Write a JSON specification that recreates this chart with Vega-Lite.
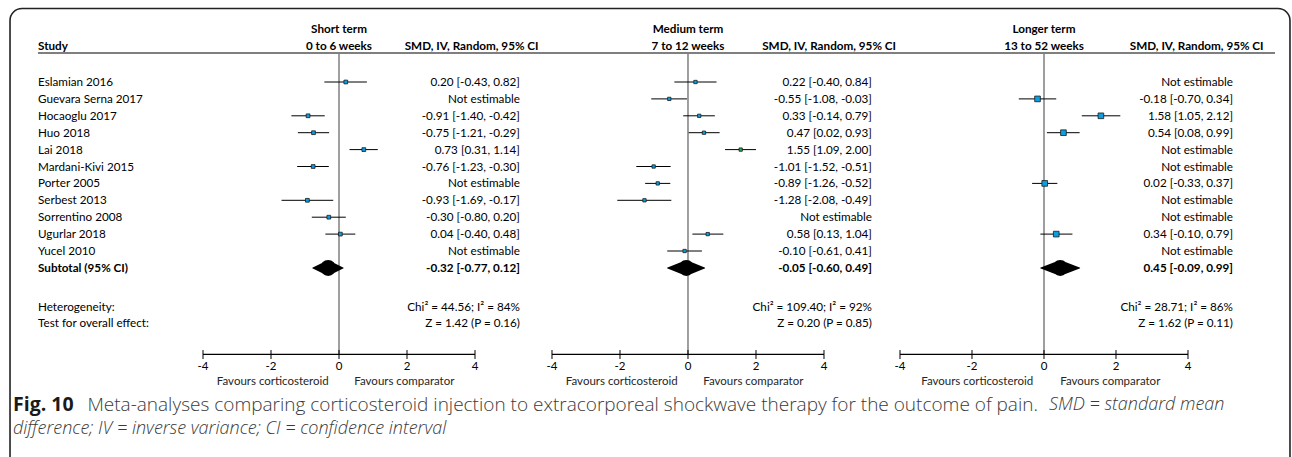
{
  "$schema": "https://vega.github.io/schema/vega-lite/v6.json",
  "width": 1292,
  "height": 457,
  "autosize": {"type": "fit", "contains": "padding"},
  "padding": 0,
  "background": "white",
  "config": {
    "view": {"stroke": null},
    "axis": {"disable": true},
    "legend": {"disable": true},
    "text": {"font": "Lato", "fontSize": 11.7, "color": "#000000", "baseline": "middle"}
  },
  "datasets": {
    "forest": [
      {"study": "Eslamian 2016", "row": 1, "period": "Short", "est": 0.20, "lo": -0.43, "hi": 0.82, "ci": "0.20 [-0.43, 0.82]"},
      {"study": "Guevara Serna 2017", "row": 2, "period": "Short", "est": null, "lo": null, "hi": null, "ci": "Not estimable"},
      {"study": "Hocaoglu 2017", "row": 3, "period": "Short", "est": -0.91, "lo": -1.40, "hi": -0.42, "ci": "-0.91 [-1.40, -0.42]"},
      {"study": "Huo 2018", "row": 4, "period": "Short", "est": -0.75, "lo": -1.21, "hi": -0.29, "ci": "-0.75 [-1.21, -0.29]"},
      {"study": "Lai 2018", "row": 5, "period": "Short", "est": 0.73, "lo": 0.31, "hi": 1.14, "ci": "0.73 [0.31, 1.14]"},
      {"study": "Mardani-Kivi 2015", "row": 6, "period": "Short", "est": -0.76, "lo": -1.23, "hi": -0.30, "ci": "-0.76 [-1.23, -0.30]"},
      {"study": "Porter 2005", "row": 7, "period": "Short", "est": null, "lo": null, "hi": null, "ci": "Not estimable"},
      {"study": "Serbest 2013", "row": 8, "period": "Short", "est": -0.93, "lo": -1.69, "hi": -0.17, "ci": "-0.93 [-1.69, -0.17]"},
      {"study": "Sorrentino 2008", "row": 9, "period": "Short", "est": -0.30, "lo": -0.80, "hi": 0.20, "ci": "-0.30 [-0.80, 0.20]"},
      {"study": "Ugurlar 2018", "row": 10, "period": "Short", "est": 0.04, "lo": -0.40, "hi": 0.48, "ci": "0.04 [-0.40, 0.48]"},
      {"study": "Yucel 2010", "row": 11, "period": "Short", "est": null, "lo": null, "hi": null, "ci": "Not estimable"},

      {"study": "Eslamian 2016", "row": 1, "period": "Medium", "est": 0.22, "lo": -0.40, "hi": 0.84, "ci": "0.22 [-0.40, 0.84]"},
      {"study": "Guevara Serna 2017", "row": 2, "period": "Medium", "est": -0.55, "lo": -1.08, "hi": -0.03, "ci": "-0.55 [-1.08, -0.03]"},
      {"study": "Hocaoglu 2017", "row": 3, "period": "Medium", "est": 0.33, "lo": -0.14, "hi": 0.79, "ci": "0.33 [-0.14, 0.79]"},
      {"study": "Huo 2018", "row": 4, "period": "Medium", "est": 0.47, "lo": 0.02, "hi": 0.93, "ci": "0.47 [0.02, 0.93]"},
      {"study": "Lai 2018", "row": 5, "period": "Medium", "est": 1.55, "lo": 1.09, "hi": 2.00, "ci": "1.55 [1.09, 2.00]"},
      {"study": "Mardani-Kivi 2015", "row": 6, "period": "Medium", "est": -1.01, "lo": -1.52, "hi": -0.51, "ci": "-1.01 [-1.52, -0.51]"},
      {"study": "Porter 2005", "row": 7, "period": "Medium", "est": -0.89, "lo": -1.26, "hi": -0.52, "ci": "-0.89 [-1.26, -0.52]"},
      {"study": "Serbest 2013", "row": 8, "period": "Medium", "est": -1.28, "lo": -2.08, "hi": -0.49, "ci": "-1.28 [-2.08, -0.49]"},
      {"study": "Sorrentino 2008", "row": 9, "period": "Medium", "est": null, "lo": null, "hi": null, "ci": "Not estimable"},
      {"study": "Ugurlar 2018", "row": 10, "period": "Medium", "est": 0.58, "lo": 0.13, "hi": 1.04, "ci": "0.58 [0.13, 1.04]"},
      {"study": "Yucel 2010", "row": 11, "period": "Medium", "est": -0.10, "lo": -0.61, "hi": 0.41, "ci": "-0.10 [-0.61, 0.41]"},

      {"study": "Eslamian 2016", "row": 1, "period": "Long", "est": null, "lo": null, "hi": null, "ci": "Not estimable"},
      {"study": "Guevara Serna 2017", "row": 2, "period": "Long", "est": -0.18, "lo": -0.70, "hi": 0.34, "ci": "-0.18 [-0.70, 0.34]"},
      {"study": "Hocaoglu 2017", "row": 3, "period": "Long", "est": 1.58, "lo": 1.05, "hi": 2.12, "ci": "1.58 [1.05, 2.12]"},
      {"study": "Huo 2018", "row": 4, "period": "Long", "est": 0.54, "lo": 0.08, "hi": 0.99, "ci": "0.54 [0.08, 0.99]"},
      {"study": "Lai 2018", "row": 5, "period": "Long", "est": null, "lo": null, "hi": null, "ci": "Not estimable"},
      {"study": "Mardani-Kivi 2015", "row": 6, "period": "Long", "est": null, "lo": null, "hi": null, "ci": "Not estimable"},
      {"study": "Porter 2005", "row": 7, "period": "Long", "est": 0.02, "lo": -0.33, "hi": 0.37, "ci": "0.02 [-0.33, 0.37]"},
      {"study": "Serbest 2013", "row": 8, "period": "Long", "est": null, "lo": null, "hi": null, "ci": "Not estimable"},
      {"study": "Sorrentino 2008", "row": 9, "period": "Long", "est": null, "lo": null, "hi": null, "ci": "Not estimable"},
      {"study": "Ugurlar 2018", "row": 10, "period": "Long", "est": 0.34, "lo": -0.10, "hi": 0.79, "ci": "0.34 [-0.10, 0.79]"},
      {"study": "Yucel 2010", "row": 11, "period": "Long", "est": null, "lo": null, "hi": null, "ci": "Not estimable"}
    ],
    "summary": [
      {"period": "Short", "row": 12, "est": -0.32, "lo": -0.77, "hi": 0.12, "ci": "-0.32 [-0.77, 0.12]", "title": "Short term", "sub": "0 to 6 weeks", "het": "Chi² = 44.56; I² = 84%", "z": "Z = 1.42 (P = 0.16)"},
      {"period": "Medium", "row": 12, "est": -0.05, "lo": -0.60, "hi": 0.49, "ci": "-0.05 [-0.60, 0.49]", "title": "Medium term", "sub": "7 to 12 weeks", "het": "Chi² = 109.40; I² = 92%", "z": "Z = 0.20 (P = 0.85)"},
      {"period": "Long", "row": 12, "est": 0.45, "lo": -0.09, "hi": 0.99, "ci": "0.45 [-0.09, 0.99]", "title": "Longer term", "sub": "13 to 52 weeks", "het": "Chi² = 28.71; I² = 86%", "z": "Z = 1.62 (P = 0.11)"}
    ],
    "ticks": [{"tick": -4}, {"tick": -2}, {"tick": 0}, {"tick": 2}, {"tick": 4}]
  },
  "resolve": {"scale": {"x": "independent"}},
  "layer": [
    {
      "layer": [
        {"data": {"name": "summary"}, "transform": [{"filter": "datum.period === 'Short'"}],
         "mark": {"type": "rect", "fill": "white", "stroke": "#222222", "strokeWidth": 1.6, "cornerRadius": 12, "clip": true},
         "encoding": {"x": {"datum": -9.676, "type": "quantitative", "scale": {"domain": [-9.9706, 28.0294], "nice": false, "zero": false}}, "x2": {"datum": 27.97},
                      "y": {"datum": -3.349, "type": "quantitative", "scale": {"domain": [-3.852, 23.189], "nice": false, "zero": false, "reverse": true}}, "y2": {"datum": 30}}},
        {"data": {"name": "summary"}, "transform": [{"filter": "datum.period === 'Short'"}],
         "mark": {"type": "rule", "color": "#000000", "strokeWidth": 1.2},
         "encoding": {"x": {"datum": -8.853, "type": "quantitative", "scale": {"domain": [-9.9706, 28.0294], "nice": false, "zero": false}}, "x2": {"datum": 27.53},
                      "y": {"datum": -0.716, "type": "quantitative", "scale": {"domain": [-3.852, 23.189], "nice": false, "zero": false, "reverse": true}}}},
        {"data": {"name": "forest"}, "transform": [{"filter": "datum.period === 'Short'"}],
         "mark": {"type": "text", "align": "left"},
         "encoding": {"x": {"datum": -8.853, "type": "quantitative", "scale": {"domain": [-9.9706, 28.0294], "nice": false, "zero": false}},
                      "y": {"field": "row", "type": "quantitative", "scale": {"domain": [-3.852, 23.189], "nice": false, "zero": false, "reverse": true}},
                      "text": {"field": "study"}}},
        {"data": {"name": "summary"}, "transform": [{"filter": "datum.period === 'Short'"}],
         "mark": {"type": "text", "align": "left", "fontWeight": "bold", "text": "Subtotal (95% CI)"},
         "encoding": {"x": {"datum": -8.853, "type": "quantitative", "scale": {"domain": [-9.9706, 28.0294], "nice": false, "zero": false}},
                      "y": {"field": "row", "type": "quantitative", "scale": {"domain": [-3.852, 23.189], "nice": false, "zero": false, "reverse": true}}}},
        {"data": {"name": "summary"}, "transform": [{"filter": "datum.period === 'Short'"}],
         "mark": {"type": "text", "align": "left", "fontWeight": "bold", "text": "Study"},
         "encoding": {"x": {"datum": -8.853, "type": "quantitative", "scale": {"domain": [-9.9706, 28.0294], "nice": false, "zero": false}},
                      "y": {"datum": -1.13, "type": "quantitative", "scale": {"domain": [-3.852, 23.189], "nice": false, "zero": false, "reverse": true}}}},
        {"data": {"name": "summary"}, "transform": [{"filter": "datum.period === 'Short'"}],
         "mark": {"type": "text", "align": "left", "text": "Heterogeneity:"},
         "encoding": {"x": {"datum": -8.853, "type": "quantitative", "scale": {"domain": [-9.9706, 28.0294], "nice": false, "zero": false}},
                      "y": {"datum": 14.31, "type": "quantitative", "scale": {"domain": [-3.852, 23.189], "nice": false, "zero": false, "reverse": true}}}},
        {"data": {"name": "summary"}, "transform": [{"filter": "datum.period === 'Short'"}],
         "mark": {"type": "text", "align": "left", "text": "Test for overall effect:"},
         "encoding": {"x": {"datum": -8.853, "type": "quantitative", "scale": {"domain": [-9.9706, 28.0294], "nice": false, "zero": false}},
                      "y": {"datum": 15.26, "type": "quantitative", "scale": {"domain": [-3.852, 23.189], "nice": false, "zero": false, "reverse": true}}}},
        {"data": {"name": "summary"}, "transform": [{"filter": "datum.period === 'Short'"}],
         "mark": {"type": "text", "align": "left", "font": "Open Sans", "fontWeight": "bold", "fontSize": 19.5, "color": "#1a1a1a", "text": "Fig. 10"},
         "encoding": {"x": {"datum": -9.588, "type": "quantitative", "scale": {"domain": [-9.9706, 28.0294], "nice": false, "zero": false}},
                      "y": {"datum": 20.11, "type": "quantitative", "scale": {"domain": [-3.852, 23.189], "nice": false, "zero": false, "reverse": true}}}},
        {"data": {"name": "summary"}, "transform": [{"filter": "datum.period === 'Short'"}],
         "mark": {"type": "text", "align": "left", "font": "Open Sans", "fontWeight": 300, "fontSize": 19, "color": "#3a3a3a", "text": "Meta-analyses comparing corticosteroid injection to extracorporeal shockwave therapy for the outcome of pain."},
         "encoding": {"x": {"datum": -7.4, "type": "quantitative", "scale": {"domain": [-9.9706, 28.0294], "nice": false, "zero": false}},
                      "y": {"datum": 20.11, "type": "quantitative", "scale": {"domain": [-3.852, 23.189], "nice": false, "zero": false, "reverse": true}}}},
        {"data": {"name": "summary"}, "transform": [{"filter": "datum.period === 'Short'"}],
         "mark": {"type": "text", "align": "left", "font": "Open Sans", "fontWeight": 300, "fontStyle": "italic", "fontSize": 18, "color": "#3a3a3a", "text": "SMD = standard mean"},
         "encoding": {"x": {"datum": 20.88, "type": "quantitative", "scale": {"domain": [-9.9706, 28.0294], "nice": false, "zero": false}},
                      "y": {"datum": 20.11, "type": "quantitative", "scale": {"domain": [-3.852, 23.189], "nice": false, "zero": false, "reverse": true}}}},
        {"data": {"name": "summary"}, "transform": [{"filter": "datum.period === 'Short'"}],
         "mark": {"type": "text", "align": "left", "font": "Open Sans", "fontWeight": 300, "fontStyle": "italic", "fontSize": 18, "color": "#3a3a3a", "text": "difference; IV = inverse variance; CI = confidence interval"},
         "encoding": {"x": {"datum": -9.588, "type": "quantitative", "scale": {"domain": [-9.9706, 28.0294], "nice": false, "zero": false}},
                      "y": {"datum": 21.53, "type": "quantitative", "scale": {"domain": [-3.852, 23.189], "nice": false, "zero": false, "reverse": true}}}},

        {"data": {"name": "summary"}, "transform": [{"filter": "datum.period === 'Short'"}],
         "mark": {"type": "rule", "color": "#7f7f7f", "strokeWidth": 1.5},
         "encoding": {"x": {"datum": 0, "type": "quantitative", "scale": {"domain": [-9.9706, 28.0294], "nice": false, "zero": false}},
                      "y": {"datum": -0.716, "type": "quantitative", "scale": {"domain": [-3.852, 23.189], "nice": false, "zero": false, "reverse": true}}, "y2": {"datum": 17.15}}},
        {"data": {"name": "forest"}, "transform": [{"filter": "datum.period === 'Short' && isValid(datum.est)"}],
         "mark": {"type": "rule", "color": "#000000", "strokeWidth": 1},
         "encoding": {"x": {"field": "lo", "type": "quantitative", "scale": {"domain": [-9.9706, 28.0294], "nice": false, "zero": false}}, "x2": {"field": "hi"},
                      "y": {"field": "row", "type": "quantitative", "scale": {"domain": [-3.852, 23.189], "nice": false, "zero": false, "reverse": true}}}},
        {"data": {"name": "forest"}, "transform": [{"filter": "datum.period === 'Short' && isValid(datum.est)"}],
         "mark": {"type": "point", "shape": "square", "filled": true, "size": 14, "fill": "#0aa0e0", "stroke": "#1a1a1a", "strokeWidth": 0.8, "opacity": 1},
         "encoding": {"x": {"field": "est", "type": "quantitative", "scale": {"domain": [-9.9706, 28.0294], "nice": false, "zero": false}},
                      "y": {"field": "row", "type": "quantitative", "scale": {"domain": [-3.852, 23.189], "nice": false, "zero": false, "reverse": true}}}},
        {"data": {"name": "summary"}, "transform": [{"filter": "datum.period === 'Short'"}, {"fold": ["lo", "est", "hi"], "as": ["part", "value"]}],
         "mark": {"type": "trail", "color": "#000000"},
         "encoding": {"x": {"field": "value", "type": "quantitative", "scale": {"domain": [-9.9706, 28.0294], "nice": false, "zero": false}},
                      "y": {"field": "row", "type": "quantitative", "scale": {"domain": [-3.852, 23.189], "nice": false, "zero": false, "reverse": true}},
                      "size": {"field": "part", "type": "ordinal", "scale": {"type": "ordinal", "domain": ["lo", "est", "hi"], "range": [0, 16, 0]}, "legend": null},
                      "order": {"field": "value", "type": "quantitative"}}},
        {"data": {"name": "forest"}, "transform": [{"filter": "datum.period === 'Short'"}],
         "mark": {"type": "text", "align": "right"},
         "encoding": {"x": {"datum": 5.32, "type": "quantitative", "scale": {"domain": [-9.9706, 28.0294], "nice": false, "zero": false}},
                      "y": {"field": "row", "type": "quantitative", "scale": {"domain": [-3.852, 23.189], "nice": false, "zero": false, "reverse": true}},
                      "text": {"field": "ci"}}},
        {"data": {"name": "summary"}, "transform": [{"filter": "datum.period === 'Short'"}],
         "mark": {"type": "text", "align": "right", "fontWeight": "bold"},
         "encoding": {"x": {"datum": 5.32, "type": "quantitative", "scale": {"domain": [-9.9706, 28.0294], "nice": false, "zero": false}},
                      "y": {"field": "row", "type": "quantitative", "scale": {"domain": [-3.852, 23.189], "nice": false, "zero": false, "reverse": true}},
                      "text": {"field": "ci"}}},
        {"data": {"name": "summary"}, "transform": [{"filter": "datum.period === 'Short'"}],
         "mark": {"type": "text", "align": "right"},
         "encoding": {"x": {"datum": 5.32, "type": "quantitative", "scale": {"domain": [-9.9706, 28.0294], "nice": false, "zero": false}},
                      "y": {"datum": 14.31, "type": "quantitative", "scale": {"domain": [-3.852, 23.189], "nice": false, "zero": false, "reverse": true}},
                      "text": {"field": "het"}}},
        {"data": {"name": "summary"}, "transform": [{"filter": "datum.period === 'Short'"}],
         "mark": {"type": "text", "align": "right"},
         "encoding": {"x": {"datum": 5.32, "type": "quantitative", "scale": {"domain": [-9.9706, 28.0294], "nice": false, "zero": false}},
                      "y": {"datum": 15.26, "type": "quantitative", "scale": {"domain": [-3.852, 23.189], "nice": false, "zero": false, "reverse": true}},
                      "text": {"field": "z"}}},
        {"data": {"name": "summary"}, "transform": [{"filter": "datum.period === 'Short'"}],
         "mark": {"type": "text", "align": "center", "fontWeight": "bold"},
         "encoding": {"x": {"datum": 0, "type": "quantitative", "scale": {"domain": [-9.9706, 28.0294], "nice": false, "zero": false}},
                      "y": {"datum": -2.136, "type": "quantitative", "scale": {"domain": [-3.852, 23.189], "nice": false, "zero": false, "reverse": true}},
                      "text": {"field": "title"}}},
        {"data": {"name": "summary"}, "transform": [{"filter": "datum.period === 'Short'"}],
         "mark": {"type": "text", "align": "center", "fontWeight": "bold"},
         "encoding": {"x": {"datum": 0, "type": "quantitative", "scale": {"domain": [-9.9706, 28.0294], "nice": false, "zero": false}},
                      "y": {"datum": -1.13, "type": "quantitative", "scale": {"domain": [-3.852, 23.189], "nice": false, "zero": false, "reverse": true}},
                      "text": {"field": "sub"}}},
        {"data": {"name": "summary"}, "transform": [{"filter": "datum.period === 'Short'"}],
         "mark": {"type": "text", "align": "center", "fontWeight": "bold", "text": "SMD, IV, Random, 95% CI"},
         "encoding": {"x": {"datum": 3.90, "type": "quantitative", "scale": {"domain": [-9.9706, 28.0294], "nice": false, "zero": false}},
                      "y": {"datum": -1.13, "type": "quantitative", "scale": {"domain": [-3.852, 23.189], "nice": false, "zero": false, "reverse": true}}}},
        {"data": {"name": "summary"}, "transform": [{"filter": "datum.period === 'Short'"}],
         "mark": {"type": "rule", "color": "#000000", "strokeWidth": 1.2},
         "encoding": {"x": {"datum": -4, "type": "quantitative", "scale": {"domain": [-9.9706, 28.0294], "nice": false, "zero": false}}, "x2": {"datum": 4},
                      "y": {"datum": 17.12, "type": "quantitative", "scale": {"domain": [-3.852, 23.189], "nice": false, "zero": false, "reverse": true}}}},
        {"data": {"name": "ticks"},
         "mark": {"type": "rule", "color": "#000000", "strokeWidth": 1},
         "encoding": {"x": {"field": "tick", "type": "quantitative", "scale": {"domain": [-9.9706, 28.0294], "nice": false, "zero": false}},
                      "y": {"datum": 16.86, "type": "quantitative", "scale": {"domain": [-3.852, 23.189], "nice": false, "zero": false, "reverse": true}}, "y2": {"datum": 17.39}}},
        {"data": {"name": "ticks"},
         "mark": {"type": "text", "align": "center", "fontSize": 11.5},
         "encoding": {"x": {"field": "tick", "type": "quantitative", "scale": {"domain": [-9.9706, 28.0294], "nice": false, "zero": false}},
                      "y": {"datum": 17.86, "type": "quantitative", "scale": {"domain": [-3.852, 23.189], "nice": false, "zero": false, "reverse": true}},
                      "text": {"field": "tick", "type": "nominal"}}},
        {"data": {"name": "summary"}, "transform": [{"filter": "datum.period === 'Short'"}],
         "mark": {"type": "text", "align": "right", "fontSize": 11.5, "color": "#262626", "text": "Favours corticosteroid"},
         "encoding": {"x": {"datum": -0.3, "type": "quantitative", "scale": {"domain": [-9.9706, 28.0294], "nice": false, "zero": false}},
                      "y": {"datum": 18.75, "type": "quantitative", "scale": {"domain": [-3.852, 23.189], "nice": false, "zero": false, "reverse": true}}}},
        {"data": {"name": "summary"}, "transform": [{"filter": "datum.period === 'Short'"}],
         "mark": {"type": "text", "align": "left", "fontSize": 11.5, "color": "#262626", "text": "Favours comparator"},
         "encoding": {"x": {"datum": 0.45, "type": "quantitative", "scale": {"domain": [-9.9706, 28.0294], "nice": false, "zero": false}},
                      "y": {"datum": 18.75, "type": "quantitative", "scale": {"domain": [-3.852, 23.189], "nice": false, "zero": false, "reverse": true}}}}
      ]
    },
    {
      "layer": [
        {"data": {"name": "summary"}, "transform": [{"filter": "datum.period === 'Medium'"}],
         "mark": {"type": "rule", "color": "#7f7f7f", "strokeWidth": 1.5},
         "encoding": {"x": {"datum": 0, "type": "quantitative", "scale": {"domain": [-20.235, 17.765], "nice": false, "zero": false}},
                      "y": {"datum": -0.716, "type": "quantitative", "scale": {"domain": [-3.852, 23.189], "nice": false, "zero": false, "reverse": true}}, "y2": {"datum": 17.15}}},
        {"data": {"name": "forest"}, "transform": [{"filter": "datum.period === 'Medium' && isValid(datum.est)"}],
         "mark": {"type": "rule", "color": "#000000", "strokeWidth": 1},
         "encoding": {"x": {"field": "lo", "type": "quantitative", "scale": {"domain": [-20.235, 17.765], "nice": false, "zero": false}}, "x2": {"field": "hi"},
                      "y": {"field": "row", "type": "quantitative", "scale": {"domain": [-3.852, 23.189], "nice": false, "zero": false, "reverse": true}}}},
        {"data": {"name": "forest"}, "transform": [{"filter": "datum.period === 'Medium' && isValid(datum.est)"}],
         "mark": {"type": "point", "shape": "square", "filled": true, "size": 11, "stroke": "#1a1a1a", "strokeWidth": 0.8, "opacity": 1},
         "encoding": {"x": {"field": "est", "type": "quantitative", "scale": {"domain": [-20.235, 17.765], "nice": false, "zero": false}},
                      "y": {"field": "row", "type": "quantitative", "scale": {"domain": [-3.852, 23.189], "nice": false, "zero": false, "reverse": true}},
                      "fill": {"condition": {"test": "datum.study === 'Lai 2018'", "value": "#1fb04c"}, "value": "#0aa0e0"}}},
        {"data": {"name": "summary"}, "transform": [{"filter": "datum.period === 'Medium'"}, {"fold": ["lo", "est", "hi"], "as": ["part", "value"]}],
         "mark": {"type": "trail", "color": "#000000"},
         "encoding": {"x": {"field": "value", "type": "quantitative", "scale": {"domain": [-20.235, 17.765], "nice": false, "zero": false}},
                      "y": {"field": "row", "type": "quantitative", "scale": {"domain": [-3.852, 23.189], "nice": false, "zero": false, "reverse": true}},
                      "size": {"field": "part", "type": "ordinal", "scale": {"type": "ordinal", "domain": ["lo", "est", "hi"], "range": [0, 16, 0]}, "legend": null},
                      "order": {"field": "value", "type": "quantitative"}}},
        {"data": {"name": "forest"}, "transform": [{"filter": "datum.period === 'Medium'"}],
         "mark": {"type": "text", "align": "right"},
         "encoding": {"x": {"datum": 5.41, "type": "quantitative", "scale": {"domain": [-20.235, 17.765], "nice": false, "zero": false}},
                      "y": {"field": "row", "type": "quantitative", "scale": {"domain": [-3.852, 23.189], "nice": false, "zero": false, "reverse": true}},
                      "text": {"field": "ci"}}},
        {"data": {"name": "summary"}, "transform": [{"filter": "datum.period === 'Medium'"}],
         "mark": {"type": "text", "align": "right", "fontWeight": "bold"},
         "encoding": {"x": {"datum": 5.41, "type": "quantitative", "scale": {"domain": [-20.235, 17.765], "nice": false, "zero": false}},
                      "y": {"field": "row", "type": "quantitative", "scale": {"domain": [-3.852, 23.189], "nice": false, "zero": false, "reverse": true}},
                      "text": {"field": "ci"}}},
        {"data": {"name": "summary"}, "transform": [{"filter": "datum.period === 'Medium'"}],
         "mark": {"type": "text", "align": "right"},
         "encoding": {"x": {"datum": 5.41, "type": "quantitative", "scale": {"domain": [-20.235, 17.765], "nice": false, "zero": false}},
                      "y": {"datum": 14.31, "type": "quantitative", "scale": {"domain": [-3.852, 23.189], "nice": false, "zero": false, "reverse": true}},
                      "text": {"field": "het"}}},
        {"data": {"name": "summary"}, "transform": [{"filter": "datum.period === 'Medium'"}],
         "mark": {"type": "text", "align": "right"},
         "encoding": {"x": {"datum": 5.41, "type": "quantitative", "scale": {"domain": [-20.235, 17.765], "nice": false, "zero": false}},
                      "y": {"datum": 15.26, "type": "quantitative", "scale": {"domain": [-3.852, 23.189], "nice": false, "zero": false, "reverse": true}},
                      "text": {"field": "z"}}},
        {"data": {"name": "summary"}, "transform": [{"filter": "datum.period === 'Medium'"}],
         "mark": {"type": "text", "align": "center", "fontWeight": "bold"},
         "encoding": {"x": {"datum": 0, "type": "quantitative", "scale": {"domain": [-20.235, 17.765], "nice": false, "zero": false}},
                      "y": {"datum": -2.136, "type": "quantitative", "scale": {"domain": [-3.852, 23.189], "nice": false, "zero": false, "reverse": true}},
                      "text": {"field": "title"}}},
        {"data": {"name": "summary"}, "transform": [{"filter": "datum.period === 'Medium'"}],
         "mark": {"type": "text", "align": "center", "fontWeight": "bold"},
         "encoding": {"x": {"datum": 0, "type": "quantitative", "scale": {"domain": [-20.235, 17.765], "nice": false, "zero": false}},
                      "y": {"datum": -1.13, "type": "quantitative", "scale": {"domain": [-3.852, 23.189], "nice": false, "zero": false, "reverse": true}},
                      "text": {"field": "sub"}}},
        {"data": {"name": "summary"}, "transform": [{"filter": "datum.period === 'Medium'"}],
         "mark": {"type": "text", "align": "center", "fontWeight": "bold", "text": "SMD, IV, Random, 95% CI"},
         "encoding": {"x": {"datum": 4.15, "type": "quantitative", "scale": {"domain": [-20.235, 17.765], "nice": false, "zero": false}},
                      "y": {"datum": -1.13, "type": "quantitative", "scale": {"domain": [-3.852, 23.189], "nice": false, "zero": false, "reverse": true}}}},
        {"data": {"name": "summary"}, "transform": [{"filter": "datum.period === 'Medium'"}],
         "mark": {"type": "rule", "color": "#000000", "strokeWidth": 1.2},
         "encoding": {"x": {"datum": -4, "type": "quantitative", "scale": {"domain": [-20.235, 17.765], "nice": false, "zero": false}}, "x2": {"datum": 4},
                      "y": {"datum": 17.12, "type": "quantitative", "scale": {"domain": [-3.852, 23.189], "nice": false, "zero": false, "reverse": true}}}},
        {"data": {"name": "ticks"},
         "mark": {"type": "rule", "color": "#000000", "strokeWidth": 1},
         "encoding": {"x": {"field": "tick", "type": "quantitative", "scale": {"domain": [-20.235, 17.765], "nice": false, "zero": false}},
                      "y": {"datum": 16.86, "type": "quantitative", "scale": {"domain": [-3.852, 23.189], "nice": false, "zero": false, "reverse": true}}, "y2": {"datum": 17.39}}},
        {"data": {"name": "ticks"},
         "mark": {"type": "text", "align": "center", "fontSize": 11.5},
         "encoding": {"x": {"field": "tick", "type": "quantitative", "scale": {"domain": [-20.235, 17.765], "nice": false, "zero": false}},
                      "y": {"datum": 17.86, "type": "quantitative", "scale": {"domain": [-3.852, 23.189], "nice": false, "zero": false, "reverse": true}},
                      "text": {"field": "tick", "type": "nominal"}}},
        {"data": {"name": "summary"}, "transform": [{"filter": "datum.period === 'Medium'"}],
         "mark": {"type": "text", "align": "right", "fontSize": 11.5, "color": "#262626", "text": "Favours corticosteroid"},
         "encoding": {"x": {"datum": -0.3, "type": "quantitative", "scale": {"domain": [-20.235, 17.765], "nice": false, "zero": false}},
                      "y": {"datum": 18.75, "type": "quantitative", "scale": {"domain": [-3.852, 23.189], "nice": false, "zero": false, "reverse": true}}}},
        {"data": {"name": "summary"}, "transform": [{"filter": "datum.period === 'Medium'"}],
         "mark": {"type": "text", "align": "left", "fontSize": 11.5, "color": "#262626", "text": "Favours comparator"},
         "encoding": {"x": {"datum": 0.45, "type": "quantitative", "scale": {"domain": [-20.235, 17.765], "nice": false, "zero": false}},
                      "y": {"datum": 18.75, "type": "quantitative", "scale": {"domain": [-3.852, 23.189], "nice": false, "zero": false, "reverse": true}}}}
      ]
    },
    {
      "layer": [
        {"data": {"name": "summary"}, "transform": [{"filter": "datum.period === 'Long'"}],
         "mark": {"type": "rule", "color": "#7f7f7f", "strokeWidth": 1.5},
         "encoding": {"x": {"datum": 0, "type": "quantitative", "scale": {"domain": [-29.0, 6.889], "nice": false, "zero": false}},
                      "y": {"datum": -0.716, "type": "quantitative", "scale": {"domain": [-3.852, 23.189], "nice": false, "zero": false, "reverse": true}}, "y2": {"datum": 17.15}}},
        {"data": {"name": "forest"}, "transform": [{"filter": "datum.period === 'Long' && isValid(datum.est)"}],
         "mark": {"type": "rule", "color": "#000000", "strokeWidth": 1},
         "encoding": {"x": {"field": "lo", "type": "quantitative", "scale": {"domain": [-29.0, 6.889], "nice": false, "zero": false}}, "x2": {"field": "hi"},
                      "y": {"field": "row", "type": "quantitative", "scale": {"domain": [-3.852, 23.189], "nice": false, "zero": false, "reverse": true}}}},
        {"data": {"name": "forest"}, "transform": [{"filter": "datum.period === 'Long' && isValid(datum.est)"}],
         "mark": {"type": "point", "shape": "square", "filled": true, "size": 32, "fill": "#0aa0e0", "stroke": "#1a1a1a", "strokeWidth": 0.8, "opacity": 1},
         "encoding": {"x": {"field": "est", "type": "quantitative", "scale": {"domain": [-29.0, 6.889], "nice": false, "zero": false}},
                      "y": {"field": "row", "type": "quantitative", "scale": {"domain": [-3.852, 23.189], "nice": false, "zero": false, "reverse": true}}}},
        {"data": {"name": "summary"}, "transform": [{"filter": "datum.period === 'Long'"}, {"fold": ["lo", "est", "hi"], "as": ["part", "value"]}],
         "mark": {"type": "trail", "color": "#000000"},
         "encoding": {"x": {"field": "value", "type": "quantitative", "scale": {"domain": [-29.0, 6.889], "nice": false, "zero": false}},
                      "y": {"field": "row", "type": "quantitative", "scale": {"domain": [-3.852, 23.189], "nice": false, "zero": false, "reverse": true}},
                      "size": {"field": "part", "type": "ordinal", "scale": {"type": "ordinal", "domain": ["lo", "est", "hi"], "range": [0, 16, 0]}, "legend": null},
                      "order": {"field": "value", "type": "quantitative"}}},
        {"data": {"name": "forest"}, "transform": [{"filter": "datum.period === 'Long'"}],
         "mark": {"type": "text", "align": "right"},
         "encoding": {"x": {"datum": 5.25, "type": "quantitative", "scale": {"domain": [-29.0, 6.889], "nice": false, "zero": false}},
                      "y": {"field": "row", "type": "quantitative", "scale": {"domain": [-3.852, 23.189], "nice": false, "zero": false, "reverse": true}},
                      "text": {"field": "ci"}}},
        {"data": {"name": "summary"}, "transform": [{"filter": "datum.period === 'Long'"}],
         "mark": {"type": "text", "align": "right", "fontWeight": "bold"},
         "encoding": {"x": {"datum": 5.25, "type": "quantitative", "scale": {"domain": [-29.0, 6.889], "nice": false, "zero": false}},
                      "y": {"field": "row", "type": "quantitative", "scale": {"domain": [-3.852, 23.189], "nice": false, "zero": false, "reverse": true}},
                      "text": {"field": "ci"}}},
        {"data": {"name": "summary"}, "transform": [{"filter": "datum.period === 'Long'"}],
         "mark": {"type": "text", "align": "right"},
         "encoding": {"x": {"datum": 5.25, "type": "quantitative", "scale": {"domain": [-29.0, 6.889], "nice": false, "zero": false}},
                      "y": {"datum": 14.31, "type": "quantitative", "scale": {"domain": [-3.852, 23.189], "nice": false, "zero": false, "reverse": true}},
                      "text": {"field": "het"}}},
        {"data": {"name": "summary"}, "transform": [{"filter": "datum.period === 'Long'"}],
         "mark": {"type": "text", "align": "right"},
         "encoding": {"x": {"datum": 5.25, "type": "quantitative", "scale": {"domain": [-29.0, 6.889], "nice": false, "zero": false}},
                      "y": {"datum": 15.26, "type": "quantitative", "scale": {"domain": [-3.852, 23.189], "nice": false, "zero": false, "reverse": true}},
                      "text": {"field": "z"}}},
        {"data": {"name": "summary"}, "transform": [{"filter": "datum.period === 'Long'"}],
         "mark": {"type": "text", "align": "center", "fontWeight": "bold"},
         "encoding": {"x": {"datum": 0, "type": "quantitative", "scale": {"domain": [-29.0, 6.889], "nice": false, "zero": false}},
                      "y": {"datum": -2.136, "type": "quantitative", "scale": {"domain": [-3.852, 23.189], "nice": false, "zero": false, "reverse": true}},
                      "text": {"field": "title"}}},
        {"data": {"name": "summary"}, "transform": [{"filter": "datum.period === 'Long'"}],
         "mark": {"type": "text", "align": "center", "fontWeight": "bold"},
         "encoding": {"x": {"datum": 0, "type": "quantitative", "scale": {"domain": [-29.0, 6.889], "nice": false, "zero": false}},
                      "y": {"datum": -1.13, "type": "quantitative", "scale": {"domain": [-3.852, 23.189], "nice": false, "zero": false, "reverse": true}},
                      "text": {"field": "sub"}}},
        {"data": {"name": "summary"}, "transform": [{"filter": "datum.period === 'Long'"}],
         "mark": {"type": "text", "align": "center", "fontWeight": "bold", "text": "SMD, IV, Random, 95% CI"},
         "encoding": {"x": {"datum": 4.24, "type": "quantitative", "scale": {"domain": [-29.0, 6.889], "nice": false, "zero": false}},
                      "y": {"datum": -1.13, "type": "quantitative", "scale": {"domain": [-3.852, 23.189], "nice": false, "zero": false, "reverse": true}}}},
        {"data": {"name": "summary"}, "transform": [{"filter": "datum.period === 'Long'"}],
         "mark": {"type": "rule", "color": "#000000", "strokeWidth": 1.2},
         "encoding": {"x": {"datum": -4, "type": "quantitative", "scale": {"domain": [-29.0, 6.889], "nice": false, "zero": false}}, "x2": {"datum": 4},
                      "y": {"datum": 17.12, "type": "quantitative", "scale": {"domain": [-3.852, 23.189], "nice": false, "zero": false, "reverse": true}}}},
        {"data": {"name": "ticks"},
         "mark": {"type": "rule", "color": "#000000", "strokeWidth": 1},
         "encoding": {"x": {"field": "tick", "type": "quantitative", "scale": {"domain": [-29.0, 6.889], "nice": false, "zero": false}},
                      "y": {"datum": 16.86, "type": "quantitative", "scale": {"domain": [-3.852, 23.189], "nice": false, "zero": false, "reverse": true}}, "y2": {"datum": 17.39}}},
        {"data": {"name": "ticks"},
         "mark": {"type": "text", "align": "center", "fontSize": 11.5},
         "encoding": {"x": {"field": "tick", "type": "quantitative", "scale": {"domain": [-29.0, 6.889], "nice": false, "zero": false}},
                      "y": {"datum": 17.86, "type": "quantitative", "scale": {"domain": [-3.852, 23.189], "nice": false, "zero": false, "reverse": true}},
                      "text": {"field": "tick", "type": "nominal"}}},
        {"data": {"name": "summary"}, "transform": [{"filter": "datum.period === 'Long'"}],
         "mark": {"type": "text", "align": "right", "fontSize": 11.5, "color": "#262626", "text": "Favours corticosteroid"},
         "encoding": {"x": {"datum": -0.3, "type": "quantitative", "scale": {"domain": [-29.0, 6.889], "nice": false, "zero": false}},
                      "y": {"datum": 18.75, "type": "quantitative", "scale": {"domain": [-3.852, 23.189], "nice": false, "zero": false, "reverse": true}}}},
        {"data": {"name": "summary"}, "transform": [{"filter": "datum.period === 'Long'"}],
         "mark": {"type": "text", "align": "left", "fontSize": 11.5, "color": "#262626", "text": "Favours comparator"},
         "encoding": {"x": {"datum": 0.45, "type": "quantitative", "scale": {"domain": [-29.0, 6.889], "nice": false, "zero": false}},
                      "y": {"datum": 18.75, "type": "quantitative", "scale": {"domain": [-3.852, 23.189], "nice": false, "zero": false, "reverse": true}}}}
      ]
    }
  ]
}
